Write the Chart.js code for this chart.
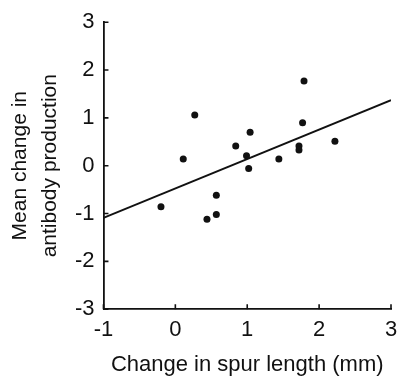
<!DOCTYPE html>
<html>
<head>
<meta charset="utf-8">
<script src="https://cdn.jsdelivr.net/npm/chart.js@4/dist/chart.umd.min.js"></script>
<style>
  html, body { margin: 0; padding: 0; background: #fff; }
  #chart { display: block; }
</style>
</head>
<body>
<canvas id="chart" width="398" height="384"></canvas>
<script>
// data
const spurChange = [-0.20, 0.11, 0.27, 0.44, 0.57, 0.57, 0.84, 0.99, 1.02, 1.04, 1.44, 1.72, 1.72, 1.77, 1.79, 2.22];
const antibodyChange = [-0.86, 0.14, 1.06, -1.12, -0.62, -1.02, 0.41, 0.21, -0.06, 0.70, 0.14, 0.41, 0.33, 0.90, 1.77, 0.51];

// fitted line end points
const fitX = [-1, 3];
const fitY = [-1.09, 1.37];

const xTicks = [-1, 0, 1, 2, 3];
const yTicks = [-3, -2, -1, 0, 1, 2, 3];

const fontFamily = '"Liberation Sans", Arial, Helvetica, sans-serif';
const ink = '#111';

// ticks pointing into the plot
const innerTicks = {
  id: 'innerTicks',
  afterDatasetsDraw(chart) {
    const ctx = chart.ctx;
    const xs = chart.scales.x, ys = chart.scales.y;
    const len = 5;
    ctx.save();
    ctx.strokeStyle = ink;
    ctx.lineWidth = 1.6;
    ctx.beginPath();
    xTicks.forEach(v => {
      const px = xs.getPixelForValue(v);
      ctx.moveTo(px, ys.bottom);
      ctx.lineTo(px, ys.bottom - len);
    });
    yTicks.forEach(v => {
      const py = ys.getPixelForValue(v);
      ctx.moveTo(xs.left, py);
      ctx.lineTo(xs.left + len, py);
    });
    ctx.stroke();
    ctx.restore();
  }
};

const ctx = document.getElementById('chart').getContext('2d');
const chart = new Chart(ctx, {
  type: 'scatter',
  data: {
    datasets: [
      {
        type: 'scatter',
        data: spurChange.map((x, i) => ({ x: x, y: antibodyChange[i] })),
        backgroundColor: ink,
        borderColor: ink,
        pointRadius: 3.5,
        pointBorderWidth: 0
      },
      {
        type: 'line',
        data: fitX.map((x, i) => ({ x: x, y: fitY[i] })),
        borderColor: ink,
        borderWidth: 1.8,
        pointRadius: 0,
        fill: false
      }
    ]
  },
  options: {
    responsive: false,
    animation: false,
    layout: { padding: { top: 3, right: 0, left: 5, bottom: 6 } },
    plugins: {
      legend: { display: false },
      tooltip: { enabled: false }
    },
    scales: {
      x: {
        type: 'linear',
        min: -1,
        max: 3,
        afterBuildTicks: axis => { axis.ticks = xTicks.map(v => ({ value: v })); },
        afterFit: axis => { axis.paddingRight = 7; },
        grid: { display: false, drawTicks: false },
        border: { display: true, color: ink, width: 1.8 },
        ticks: {
          color: ink,
          padding: 8,
          font: { family: fontFamily, size: 22 },
          callback: v => String(v)
        },
        title: {
          display: true,
          text: 'Change in spur length (mm)',
          color: ink,
          padding: { top: 0, bottom: 0 },
          font: { family: fontFamily, size: 22 }
        }
      },
      y: {
        type: 'linear',
        min: -3,
        max: 3,
        afterBuildTicks: axis => { axis.ticks = yTicks.map(v => ({ value: v })); },
        grid: { display: false, drawTicks: false },
        border: { display: true, color: ink, width: 1.8 },
        ticks: {
          color: ink,
          padding: 9,
          font: { family: fontFamily, size: 22 },
          callback: v => String(v)
        },
        title: {
          display: true,
          text: ['Mean change in', 'antibody production'],
          color: ink,
          padding: { top: 0, bottom: 0 },
          font: { family: fontFamily, size: 21, lineHeight: 1.45 }
        }
      }
    }
  },
  plugins: [innerTicks]
});
</script>
</body>
</html>
